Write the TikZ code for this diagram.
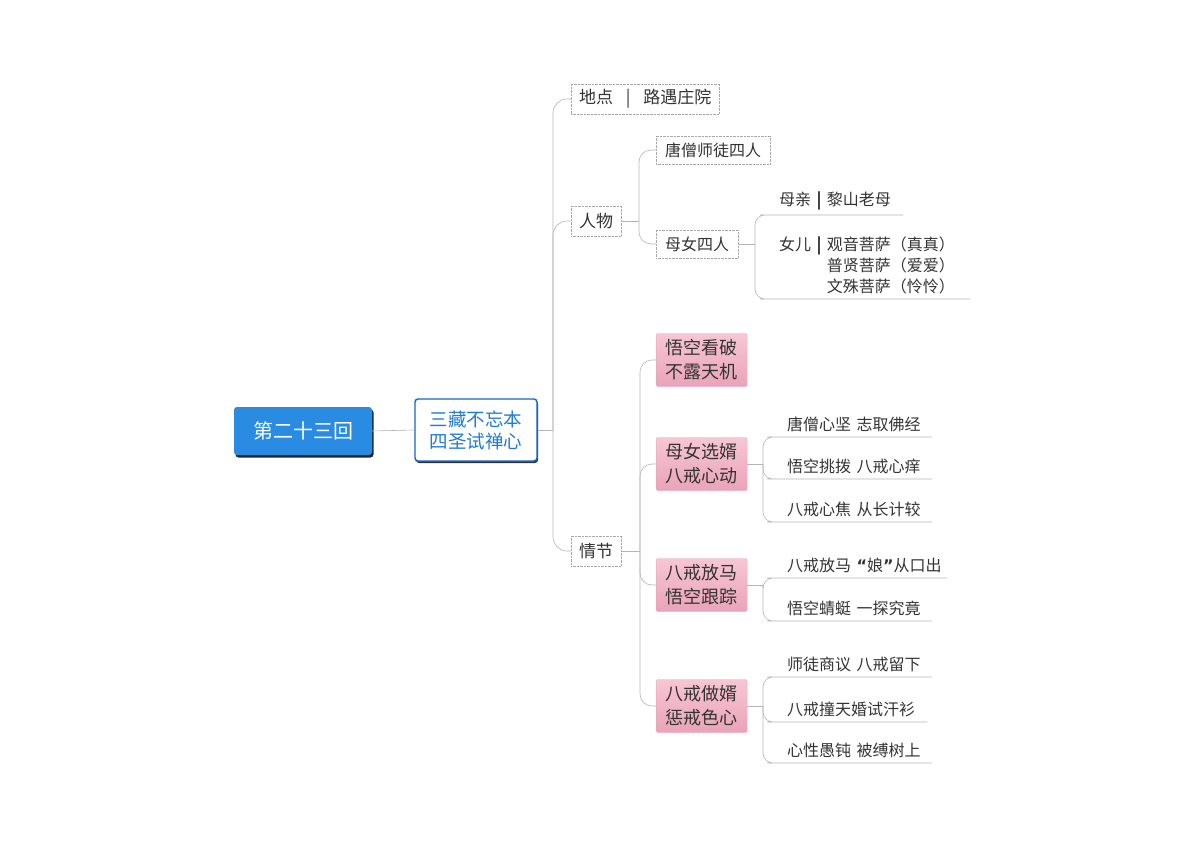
\documentclass[tikz,border=0pt]{standalone}
\usepackage{fontspec}
\setmainfont{Noto Sans CJK SC}
\newfontfamily\quotefont{DejaVu Sans}
\usetikzlibrary{shadows}
\definecolor{rootblue}{HTML}{2A8BE3}
\definecolor{themeblue}{HTML}{1565C8}
\definecolor{themetext}{HTML}{1E7BD8}
\definecolor{linkgray}{HTML}{B4B4B4}
\definecolor{boxgray}{HTML}{A8A8A8}
\definecolor{pinktop}{HTML}{F7C6D4}
\definecolor{pinkbot}{HTML}{E9A3B9}
\definecolor{inkgray}{HTML}{333333}
\begin{document}
\begin{tikzpicture}[x=1pt,y=-1pt,
  link/.style={draw=linkgray,line width=0.6pt,rounded corners=#1},
  link/.default=10pt,
  root/.style={fill=rootblue,rounded corners=3pt,text=white,
    minimum width=138pt,minimum height=48pt,
    font=\fontsize{20}{24}\selectfont,
    drop shadow={shadow xshift=1.5pt,shadow yshift=-2.5pt,fill=black!85,opacity=1}},
  theme/.style={draw=themeblue,line width=1.4pt,fill=white,rounded corners=3pt,
    text=themetext,align=center,minimum width=122pt,minimum height=62pt,
    font=\fontsize{18.5}{22}\selectfont,
    drop shadow={shadow xshift=1pt,shadow yshift=-2pt,fill=black!80,opacity=1}},
  topic/.style={draw=boxgray,densely dotted,fill=white,anchor=west,text=inkgray,
    inner xsep=8pt,minimum height=30pt,font=\fontsize{17}{20}\selectfont},
  sub/.style={draw=boxgray,densely dotted,fill=white,anchor=west,text=inkgray,
    inner xsep=9pt,minimum height=28pt,font=\fontsize{16}{19}\selectfont},
  pinkbox/.style={top color=pinktop,bottom color=pinkbot,draw=pinkbot,
    rounded corners=2pt,anchor=west,align=center,text=inkgray,
    minimum width=91pt,minimum height=53pt,font=\fontsize{18}{24}\selectfont},
  leaf/.style={anchor=south west,inner xsep=10pt,inner ysep=5pt,align=left,
    text=inkgray,text width=#1-20pt,font=\fontsize{16}{21}\selectfont},
  leaf/.default=155pt]
\useasboundingbox (0,0) rectangle (1200,845);

% centre and theme
\node[root] (round) at (303,431) {第二十三回};
\node[theme] (theme) at (476,430) {三藏不忘本\\四圣试禅心};

% first level
\node[topic] (place) at (571,99) {地点\hspace{0.75em}|\hspace{0.75em}路遇庄院};
\node[topic] (people) at (571,221) {人物};
\node[topic] (plot) at (571,551) {情节};

% people
\node[sub] (monks) at (656,150) {唐僧师徒四人};
\node[sub] (family) at (656,244) {母女四人};
\node[leaf=135pt,inner xsep=9pt] (mother) at (770,215) {母亲 \textbf{|} 黎山老母};
\node[leaf=202pt,inner xsep=9pt] (daughters) at (770,299)
  {女儿 \textbf{|} 观音菩萨（真真）\\
   \hphantom{女儿 \textbf{|} }普贤菩萨（爱爱）\\
   \hphantom{女儿 \textbf{|} }文殊菩萨（怜怜）};

% plot
\node[pinkbox] (seeing) at (656,360) {悟空看破\\不露天机};
\node[pinkbox] (choosing) at (656,464) {母女选婿\\八戒心动};
\node[pinkbox] (horse) at (656,585) {八戒放马\\悟空跟踪};
\node[pinkbox] (wedding) at (656,706) {八戒做婿\\惩戒色心};

\node[leaf] (firm) at (777,437) {唐僧心坚 志取佛经};
\node[leaf] (tease) at (777,479) {悟空挑拨 八戒心痒};
\node[leaf] (eager) at (777,522) {八戒心焦 从长计较};
\node[leaf=170pt] (slip) at (777,578)
  {\mbox{八戒放马 {\quotefont\bfseries “}娘{\quotefont\bfseries ”}从口出}};
\node[leaf] (dragonfly) at (777,621) {悟空蜻蜓 一探究竟};
\node[leaf] (discuss) at (777,677) {师徒商议 八戒留下};
\node[leaf=150pt] (shirt) at (777,722) {八戒撞天婚试汗衫};
\node[leaf] (tied) at (777,763) {心性愚钝 被缚树上};

% junctions
\coordinate (themej) at (553,430);
\coordinate (peoplej) at (639,221);
\coordinate (familyj) at (755,244);
\coordinate (plotj) at (640,551);
\coordinate (choosingj) at (763,464);
\coordinate (horsej) at (763,585);
\coordinate (weddingj) at (763,706);

% connectors
\draw[link] (round.east) -- (theme.west);
\draw[link] (theme.east) -- (themej);
\foreach \n in {place,people,plot}
  \draw[link=14pt] (themej) |- (\n.west);
\draw[link] (people.east) -- (peoplej);
\foreach \n in {monks,family}
  \draw[link=12pt] (peoplej) |- (\n.west);
\draw[link] (family.east) -- (familyj);
\foreach \n in {mother,daughters}
  \draw[link] (familyj) |- (\n.south west) -- (\n.south east);
\draw[link] (plot.east) -- (plotj);
\foreach \n in {seeing,choosing,horse,wedding}
  \draw[link=12pt] (plotj) |- (\n.west);
\draw[link] (choosing.east) -- (choosingj);
\foreach \n in {firm,tease,eager}
  \draw[link] (choosingj) |- (\n.south west) -- (\n.south east);
\draw[link] (horse.east) -- (horsej);
\foreach \n in {slip,dragonfly}
  \draw[link] (horsej) |- (\n.south west) -- (\n.south east);
\draw[link] (wedding.east) -- (weddingj);
\foreach \n in {discuss,shirt,tied}
  \draw[link] (weddingj) |- (\n.south west) -- (\n.south east);
\end{tikzpicture}
\end{document}
